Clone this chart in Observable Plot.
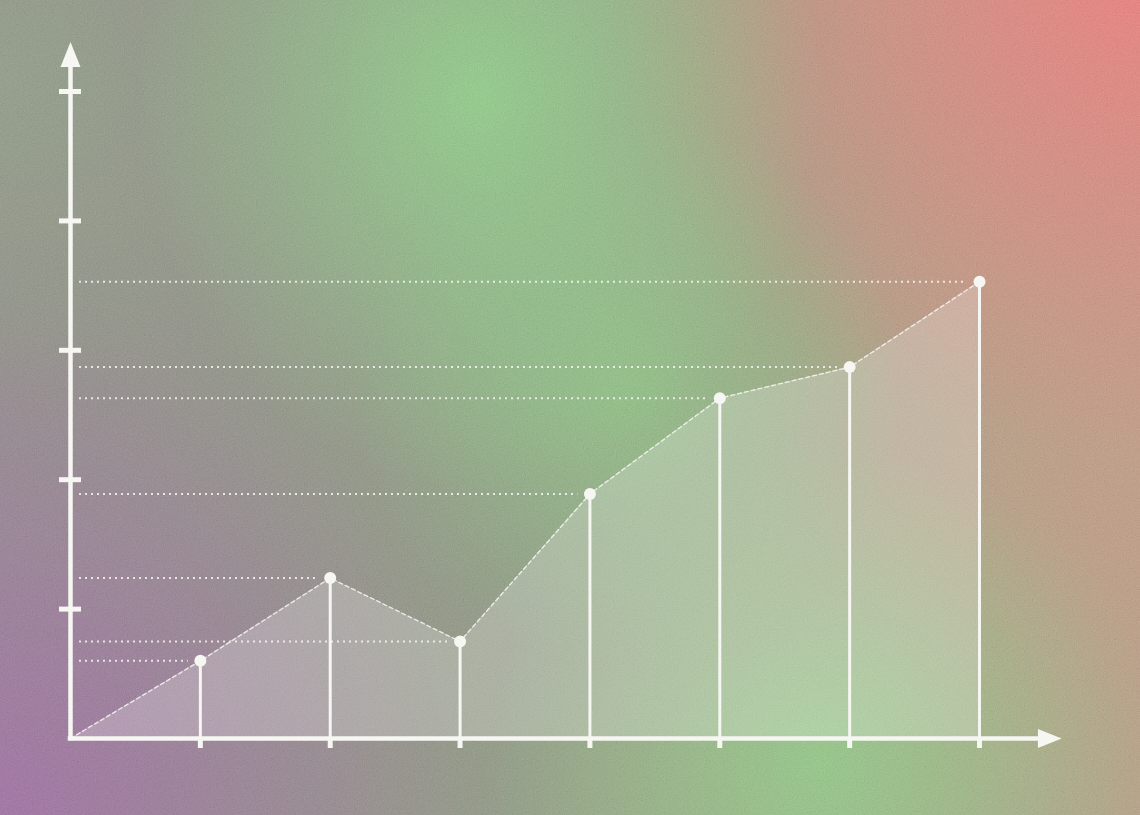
<!DOCTYPE html>
<html>
<head>
<meta charset="utf-8">
<script src="https://cdn.jsdelivr.net/npm/d3@7"></script>
<script src="https://cdn.jsdelivr.net/npm/@observablehq/plot@0.6"></script>
<style>
html, body { margin: 0; padding: 0; }
#wrap {
  position: relative; width: 1140px; height: 815px; overflow: hidden;
  background:
    radial-gradient(ellipse 30% 48% at 42% 12%, rgba(140,210,132,0.95), rgba(140,210,132,0) 100%),
    radial-gradient(ellipse 24% 34% at 55% 48%, rgba(136,200,126,0.8), rgba(136,200,126,0) 100%),
    radial-gradient(ellipse 48% 55% at 100% 0%, rgba(240,122,118,1), rgba(240,122,118,0) 100%),
    radial-gradient(ellipse 42% 62% at 0% 100%, rgba(158,102,162,0.95), rgba(158,102,162,0) 100%),
    radial-gradient(ellipse 30% 40% at 72% 94%, rgba(142,204,130,0.95), rgba(142,204,130,0) 100%),
    radial-gradient(ellipse 32% 50% at 100% 55%, rgba(198,152,126,0.75), rgba(198,152,126,0) 100%),
    radial-gradient(ellipse 28% 40% at 0% 10%, rgba(140,160,128,0.7), rgba(140,160,128,0) 100%),
    linear-gradient(to right, #8c8a84 0%, #8c957e 45%, #a49e7e 75%, #b69c80 100%);
}
#grain { position: absolute; left: 0; top: 0; }
#chart { position: absolute; left: 0; top: 0; }
</style>
</head>
<body>
<div id="wrap">
  <svg id="grain" width="1140" height="815">
    <filter id="noise" x="0" y="0" width="100%" height="100%">
      <feTurbulence type="fractalNoise" baseFrequency="0.9" numOctaves="2" stitchTiles="stitch"/>
      <feColorMatrix type="matrix" values="0.4 0.4 0.4 0 -0.1  0.4 0.4 0.4 0 -0.1  0.4 0.4 0.4 0 -0.1  0 0 0 0 0.2"/>
    </filter>
    <rect width="1140" height="815" filter="url(#noise)"/>
  </svg>
  <div id="chart"></div>
</div>
<script>
// Data
const xs = [1, 2, 3, 4, 5, 6, 7];
const ys = [0.6, 1.24, 0.75, 1.89, 2.63, 2.87, 3.53];
const yTicks = [1, 2, 3, 4, 5];
const xTicks = [1, 2, 3, 4, 5, 6, 7];
const xAxisEnd = 7.45;   // where the x axis arrow starts
const yAxisEnd = 5.19;   // where the y axis arrow starts

const points = xs.map((x, i) => ({x, y: ys[i]}));
const areaData = [{x: 0, y: 0}, ...points];

const arrow = {
  draw(ctx, size) {
    const r = Math.sqrt(size / Math.PI);
    ctx.moveTo(-r, 0);
    ctx.lineTo(0, -2.5 * r);
    ctx.lineTo(r, 0);
    ctx.closePath();
  }
};

const W = "#f6f6f2";

const chart = Plot.plot({
  width: 1140,
  height: 815,
  marginLeft: 70,
  marginRight: 161,
  marginTop: 91,
  marginBottom: 77,
  x: {domain: [0, 7]},
  y: {domain: [0, 5], axis: null},
  style: {background: "transparent", overflow: "visible"},
  marks: [
    Plot.areaY(areaData, {x: "x", y: "y", fill: "white", fillOpacity: 0.22}),
    Plot.ruleY(points, {y: "y", x1: 0, x2: "x", stroke: W, strokeWidth: 2, strokeDasharray: "2,4", strokeOpacity: 0.85, insetLeft: 9, insetRight: 12}),
    Plot.line(areaData, {x: "x", y: "y", stroke: W, strokeWidth: 1.4, strokeDasharray: "4,3", strokeOpacity: 0.85}),
    Plot.ruleX(points, {x: "x", y1: 0, y2: "y", stroke: W, strokeWidth: 3}),
    Plot.axisX(xTicks, {tickSize: 10, stroke: W, strokeWidth: 5, fill: "none"}),
    Plot.ruleY(yTicks, {y: d => d, x1: 0, x2: 0, insetLeft: -11, insetRight: -11, stroke: W, strokeWidth: 5}),
    Plot.ruleX([0], {x: d => d, y1: 0, y2: yAxisEnd, stroke: W, strokeWidth: 4.5, strokeLinecap: "square"}),
    Plot.ruleY([0], {y: d => d, x1: 0, x2: xAxisEnd, stroke: W, strokeWidth: 4.5, strokeLinecap: "square"}),
    Plot.dot([0], {x: d => d, y: yAxisEnd, symbol: arrow, r: 10, fill: W, stroke: "none"}),
    Plot.dot([0], {x: xAxisEnd, y: d => d, symbol: arrow, r: 9.5, rotate: 90, fill: W, stroke: "none"}),
    Plot.dot(points, {x: "x", y: "y", r: 6, fill: W, stroke: "none"})
  ]
});
document.getElementById("chart").appendChild(chart);
</script>
</body>
</html>
